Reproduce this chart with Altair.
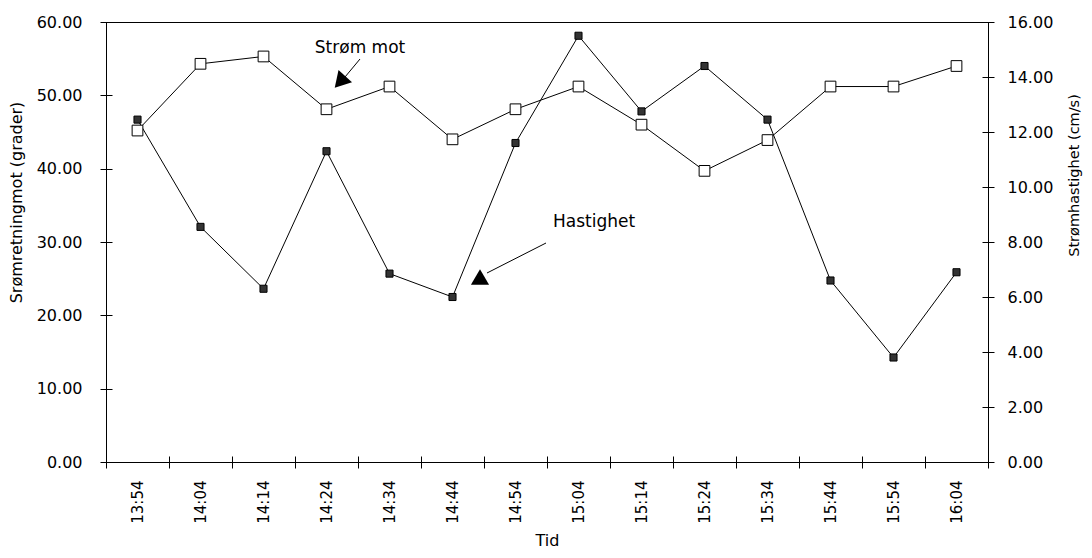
import altair as alt
import pandas as pd

times = ["13:54", "14:04", "14:14", "14:24", "14:34", "14:44", "14:54",
         "15:04", "15:14", "15:24", "15:34", "15:44", "15:54", "16:04"]
retning = [45.2, 54.3, 55.3, 48.1, 51.2, 44.0, 48.1,
           51.2, 46.0, 39.7, 43.9, 51.2, 51.2, 54.0]
hastighet = [12.45, 8.55, 6.3, 11.3, 6.85, 6.0, 11.6,
             15.5, 12.75, 14.4, 12.45, 6.6, 3.8, 6.9]

df = pd.DataFrame({"Tid": times, "retning": retning, "hastighet": hastighet})

FONT = "DejaVu Sans"

x_axis = alt.Axis(
    title="Tid", labelAngle=270, tickBand="extent", domain=False,
    offset=-6, tickSize=12, labelPadding=12, titlePadding=9,
    labelFontSize=15, titleFontSize=16, tickColor="black",
    labelColor="black", titleColor="black", titleFontWeight="normal",
    labelFont=FONT, titleFont=FONT,
)
x_enc = alt.X("Tid:N", sort=times, bandPosition=0.5,
              scale=alt.Scale(type="band", paddingInner=0, paddingOuter=0),
              axis=x_axis)

left_axis = alt.Axis(
    title="Srømretningmot (grader)", orient="left", values=[0, 10, 20, 30, 40, 50, 60],
    format=".2f", domain=False, offset=-6, tickSize=12, labelPadding=18,
    titlePadding=12, titleY=180, labelFontSize=16, titleFontSize=16, tickColor="black",
    labelColor="black", titleColor="black", titleFontWeight="normal",
    labelFont=FONT, titleFont=FONT, grid=False,
)
right_axis = alt.Axis(
    title="Strømhastighet (cm/s)", orient="right", values=[0, 2, 4, 6, 8, 10, 12, 14, 16],
    format=".2f", domain=False, offset=-6, tickSize=12, labelPadding=13,
    titlePadding=29, titleAngle=270, titleY=153, labelFontSize=16, titleFontSize=14.5,
    tickColor="black", labelColor="black", titleColor="black", titleFontWeight="normal",
    labelFont=FONT, titleFont=FONT, grid=False,
)

base = alt.Chart(df)

y_dir = alt.Y("retning:Q", scale=alt.Scale(domain=[0, 60], nice=False), axis=left_axis)
y_spd = alt.Y("hastighet:Q", scale=alt.Scale(domain=[0, 16], nice=False), axis=right_axis)

spd = alt.layer(
    base.mark_line(color="black", strokeWidth=1).encode(x=x_enc, y=y_spd),
    base.mark_point(shape="square", filled=True, size=50, fill="#333333",
                    stroke="black", strokeWidth=1, opacity=1).encode(x=x_enc, y=y_spd),
)
dirn = alt.layer(
    base.mark_line(color="black", strokeWidth=1).encode(x=x_enc, y=y_dir),
    base.mark_point(shape="square", filled=True, size=115, fill="white",
                    stroke="black", strokeWidth=1, opacity=1).encode(x=x_enc, y=y_dir),
)

one = pd.DataFrame({"a": [0]})
ann = alt.layer(
    alt.Chart(one).mark_text(font=FONT, fontSize=17, color="black", align="center",
                             baseline="middle").encode(
        x=alt.value(254), y=alt.value(26), text=alt.value("Strøm mot")),
    alt.Chart(one).mark_rule(color="black", strokeWidth=1).encode(
        x=alt.value(254), y=alt.value(37), x2=alt.value(239), y2=alt.value(55)),
    alt.Chart(one).mark_point(shape="triangle-up", filled=True, size=330, color="black",
                              opacity=1, angle=222).encode(
        x=alt.value(234), y=alt.value(60)),
    alt.Chart(one).mark_text(font=FONT, fontSize=17, color="black", align="center",
                             baseline="middle").encode(
        x=alt.value(488), y=alt.value(200), text=alt.value("Hastighet")),
    alt.Chart(one).mark_rule(color="black", strokeWidth=1).encode(
        x=alt.value(440), y=alt.value(221), x2=alt.value(381), y2=alt.value(251)),
    alt.Chart(one).mark_point(shape="triangle-up", filled=True, size=330, color="black",
                              opacity=1, angle=0).encode(
        x=alt.value(374), y=alt.value(255)),
)

chart = alt.layer(spd, dirn, ann).resolve_scale(y="independent").properties(
    width=882, height=440,
    autosize=alt.AutoSizeParams(type="none"),
    padding={"left": 98, "top": 14, "right": 96, "bottom": 88},
    background="white",
).configure_view(stroke="black", strokeWidth=1)

chart.save("out.html", embed_options={"renderer": "svg", "actions": False})
